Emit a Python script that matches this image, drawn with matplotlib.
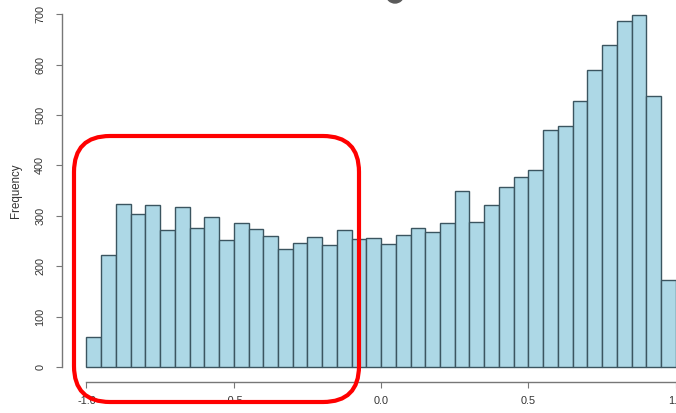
import numpy as np
import matplotlib.pyplot as plt
from matplotlib.patches import FancyBboxPatch, Ellipse

# histogram counts, bins of width 0.05 from -1.0 to 1.0
bin_left = np.round(np.arange(-1.0, 1.0, 0.05), 2)
counts = [60, 223, 323, 304, 321, 272, 317, 276, 297, 252,
          286, 274, 260, 235, 247, 257, 242, 272, 253, 255,
          245, 261, 275, 267, 285, 349, 288, 321, 358, 376,
          390, 471, 479, 528, 589, 638, 687, 698, 537, 173]
xticks = [-1.0, -0.5, 0.0, 0.5, 1.0]
xlabels = ["-1.0", "-0.5", "0.0", "0.5", "1.0"]
yticks = [0, 100, 200, 300, 400, 500, 600, 700]

plt.rcParams['font.family'] = ['Liberation Sans', 'DejaVu Sans']

fig = plt.figure(figsize=(6.76, 4.13), dpi=100)
ax = fig.add_axes([0, 0, 1, 1])
ax.set_xlim(-1.2936, 1.00102)
ax.set_ylim(-91.3, 728.2)
ax.patch.set_alpha(0)

ax.bar(bin_left, counts, width=0.05, align='edge',
       color='#add8e6', edgecolor='#3b5560', linewidth=1.0)

# R-style detached axes
for side in ['top', 'right']:
    ax.spines[side].set_visible(False)
ax.spines['left'].set_position(('data', -1.0821))
ax.spines['left'].set_bounds(0, 700)
ax.spines['bottom'].set_position(('data', -28.8))
ax.spines['bottom'].set_bounds(-1.0, 1.0)
for side in ['left', 'bottom']:
    ax.spines[side].set_color('#777777')
    ax.spines[side].set_linewidth(1.0)

ax.set_xticks(xticks)
ax.set_xticklabels(xlabels)
ax.set_yticks(yticks)
ax.set_yticklabels([str(v) for v in yticks], rotation=90, va='center')
ax.tick_params(axis='both', direction='out', length=4.3, width=0.8,
               color='#777777', labelcolor='#333333', labelsize=7.8)
ax.tick_params(axis='x', pad=6)
ax.tick_params(axis='y', pad=8)

ax.set_ylabel('Frequency', fontsize=8.3, color='#333333')
ax.yaxis.set_label_coords(22 / 676, 1 - 191 / 413)

# overlay in pixel units for the highlight box
ov = fig.add_axes([0, 0, 1, 1])
ov.set_xlim(0, 676)
ov.set_ylim(413, 0)
ov.axis('off')
ov.patch.set_alpha(0)

box = FancyBboxPatch((74, 136), 285, 266,
                     boxstyle='round,pad=0,rounding_size=36',
                     fill=False, edgecolor='#ff0000', linewidth=3.0)
ov.add_patch(box)
ov.add_patch(Ellipse((395, -5), 17, 16, color='#5a5a5a'))

fig.savefig('out.png', dpi=100)
